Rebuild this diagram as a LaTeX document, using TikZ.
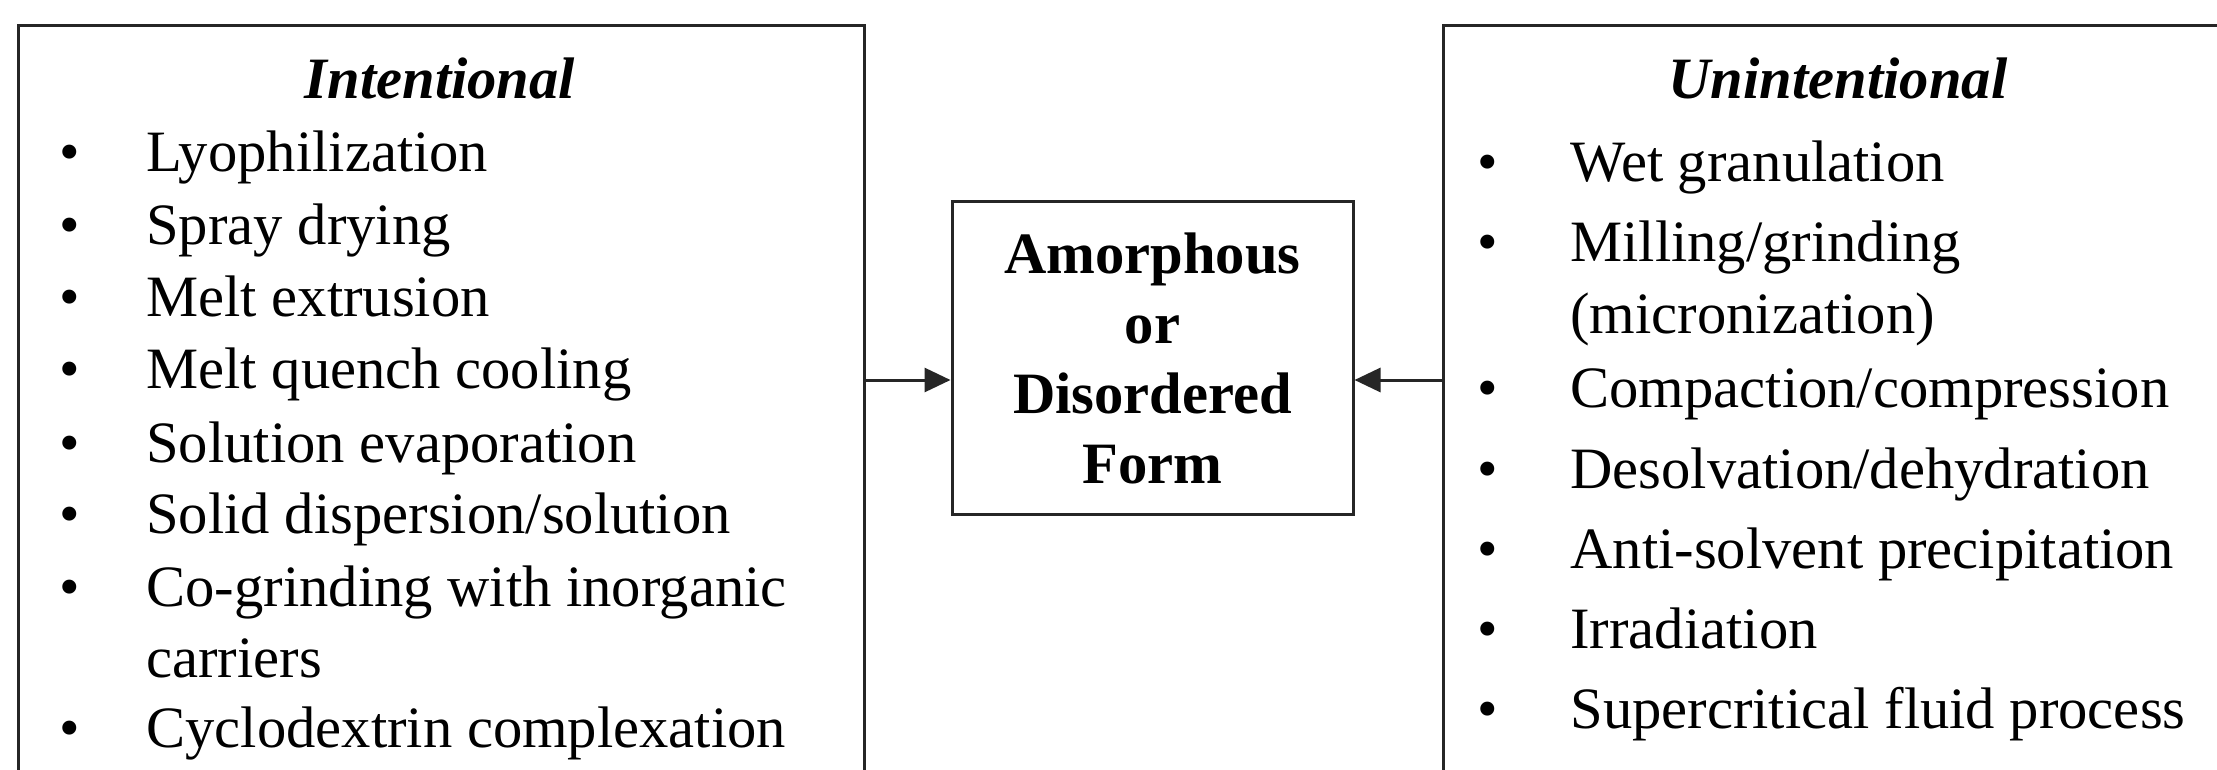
\documentclass[tikz,border=0pt]{standalone}
\usepackage{fontspec}
\setmainfont{Liberation Serif}
\usetikzlibrary{arrows.meta}
\newcommand{\bodysize}{\fontsize{29.3}{35}\selectfont}
\begin{document}
\begin{tikzpicture}[x=0.5pt,y=-0.5pt,
  frame/.style={draw=black!85, line width=1.5pt, inner sep=0pt, anchor=north west},
  formbox/.style={draw=black!85, line width=1.5pt, inner sep=0pt, align=center,
    minimum width=200.5pt, minimum height=156pt,
    font=\bodysize\bfseries},
  item/.style={anchor=base west, inner sep=0pt, font=\bodysize},
  dot/.style={anchor=base, inner sep=0pt, font=\bodysize},
  head/.style={anchor=base, inner sep=0pt, font=\bodysize\bfseries\itshape},
  link/.style={draw=black!85, line width=1.5pt, -{Triangle[length=13pt,width=12pt]}}
]
\useasboundingbox (0,0) rectangle (2217,770);
\clip (0,0) rectangle (2217,770);
\fill[white] (0,0) rectangle (2217,770);

% outer frames (they run past the lower and right edges)
\node[frame, minimum width=423pt, minimum height=400pt] (intent) at (17,24) {};
\node[frame, minimum width=405pt, minimum height=400pt] (unint) at (1442,24) {};

% central box
\node[formbox] (form) at (1152.5,358) {Amorphous\\or\\Disordered\\Form};

% arrows into the central box
\coordinate (ay) at (0,380);
\draw[link] (intent.east |- ay) -- (form.west |- ay);
\draw[link] (unint.west |- ay) -- (form.east |- ay);

% left list
\node[head] (hl) at (440,99) {Intentional};
\foreach \y/\t [count=\i] in {172/Lyophilization, 245/Spray drying, 316/Melt extrusion,
  388/Melt quench cooling, 462/Solution evaporation, 533/Solid dispersion\slash solution,
  606/Co-grinding with inorganic, 747/Cyclodextrin complexation}{
  \node[dot] (bl\i) at (70,\y) {•};
  \node[item] (tl\i) at (146,\y) {\t};
}
\node[item] (tl7b) at (146,677) {carriers};

% right list
\node[head] (hr) at (1838,99) {Unintentional};
\foreach \y/\t [count=\i] in {182/Wet granulation, 262/Milling\slash grinding,
  408/Compaction\slash compression, 488/Desolvation\slash dehydration,
  568/Anti-solvent precipitation, 648/Irradiation, 728/Supercritical fluid process}{
  \node[dot] (br\i) at (1488,\y) {•};
  \node[item] (tr\i) at (1570,\y) {\t};
}
\node[item] (tr2b) at (1570,334) {(micronization)};
\end{tikzpicture}
\end{document}
